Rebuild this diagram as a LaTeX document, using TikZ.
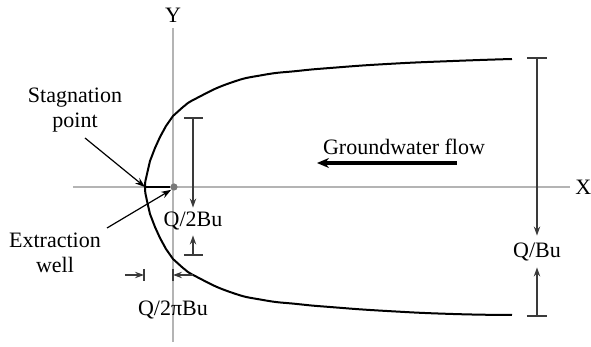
\documentclass[tikz,border=0pt]{standalone}
\usepackage{fontspec}
\setmainfont{Liberation Serif}
\usepackage{xcolor}
\usepackage{tikz}
\usetikzlibrary{arrows.meta,positioning,calc}
\definecolor{AxisGrey}{HTML}{B4B4B4}
\definecolor{DimGrey}{HTML}{3A3A3A}
\definecolor{WellGrey}{HTML}{7A7A7A}

\begin{document}
\begin{tikzpicture}[
  x=0.5pt,y=-0.5pt,
  axis/.style={AxisGrey,line width=0.7pt},
  dimline/.style={DimGrey,line width=0.6pt,-{Stealth[length=4.5pt,width=3.2pt]}},
  bar/.style={DimGrey,line width=1pt},
  lab/.style={font=\fontsize{11}{12.5}\selectfont,inner sep=0pt,align=center},
  pointer/.style={black,line width=0.6pt,-{Stealth[length=5pt,width=3.5pt]}},
  flow/.style={black,line width=2pt,-{Stealth[length=6pt,width=5pt]}}
]
\useasboundingbox (0,0) rectangle (591,347);
% axes
\coordinate (xl) at (73,187);  \coordinate (xr) at (570,187);
\coordinate (yt) at (173,28);  \coordinate (yb) at (173,342);
\draw[axis] (xl) -- (xr);
\draw[axis] (yt) -- (yb);
\node[lab,anchor=west] (xlab) at (575,187) {X};
\node[lab] (ylab) at (173,15) {Y};

% capture zone
\draw[black,line width=1pt] plot[smooth,tension=0.9] coordinates {
  (512,59) (453,61) (387,64) (330,68) (297,71) (263,75) (230,83) (197,98)
  (183,107) (173,116) (166,126) (160,137) (155,148) (150,161) (147,174) (145,187)
  (147,201) (150,214) (155,227) (160,238) (166,249) (173,259) (183,268)
  (197,277) (230,292) (263,300) (297,304) (330,307) (387,311) (453,314) (512,315)};

% well and stagnation point
\coordinate (stag) at (145,187);
\node[circle,fill=WellGrey,inner sep=0pt,minimum size=3.6pt] (well) at (174,187) {};
\draw[black,line width=1.1pt] (stag) -- (well.west);

% labels with pointers
\node[lab] (stlab) at (75,110) {Stagnation\\point};
\coordinate (sttail) at (85,138);
\draw[pointer] (sttail) -- (stag);
\node[lab] (exlab) at (55,253) {Extraction\\well};
\coordinate (extail) at (107,228);
\draw[pointer] (extail) -- (well.south west);

% groundwater flow
\node[lab] (gw) at (404,147) {Groundwater flow};
\coordinate (gwtail) at (457,163); \coordinate (gwhead) at (317,163);
\draw[flow] (gwtail) -- (gwhead);

% Q/2Bu
\node[lab] (q2b) at (193,221) {Q/2Bu};
\coordinate (q2bt) at (193,118); \coordinate (q2bb) at (193,255);
\draw[bar] ($(q2bt)+(-9,0)$) -- ($(q2bt)+(10,0)$);
\draw[bar] ($(q2bb)+(-9,0)$) -- ($(q2bb)+(10,0)$);
\draw[dimline] (q2bt) -- ($(q2b.north)+(0,-4)$);
\draw[dimline] (q2bb) -- ($(q2b.south)+(0,5)$);

% Q/Bu
\node[lab] (qb) at (537,252) {Q/Bu};
\coordinate (qbt) at (537,58); \coordinate (qbb) at (537,316);
\draw[bar] ($(qbt)+(-10,0)$) -- ($(qbt)+(10,0)$);
\draw[bar] ($(qbb)+(-10,0)$) -- ($(qbb)+(10,0)$);
\draw[dimline] (qbt) -- ($(qb.north)+(0,-7)$);
\draw[dimline] (qbb) -- ($(qb.south)+(0,6)$);

% Q/2piBu
\node[lab] (q2pb) at (173,310) {Q/2πBu};
\coordinate (tl) at (144,275); \coordinate (tr) at (173,275);
\foreach \t in {tl,tr}
  \draw[bar] ($(\t)+(0,-6)$) -- ($(\t)+(0,6)$);
\coordinate (tlfree) at (125,275); \coordinate (trfree) at (193,275);
\draw[dimline] (tlfree) -- (tl);
\draw[dimline] (trfree) -- (tr);
\end{tikzpicture}
\end{document}
